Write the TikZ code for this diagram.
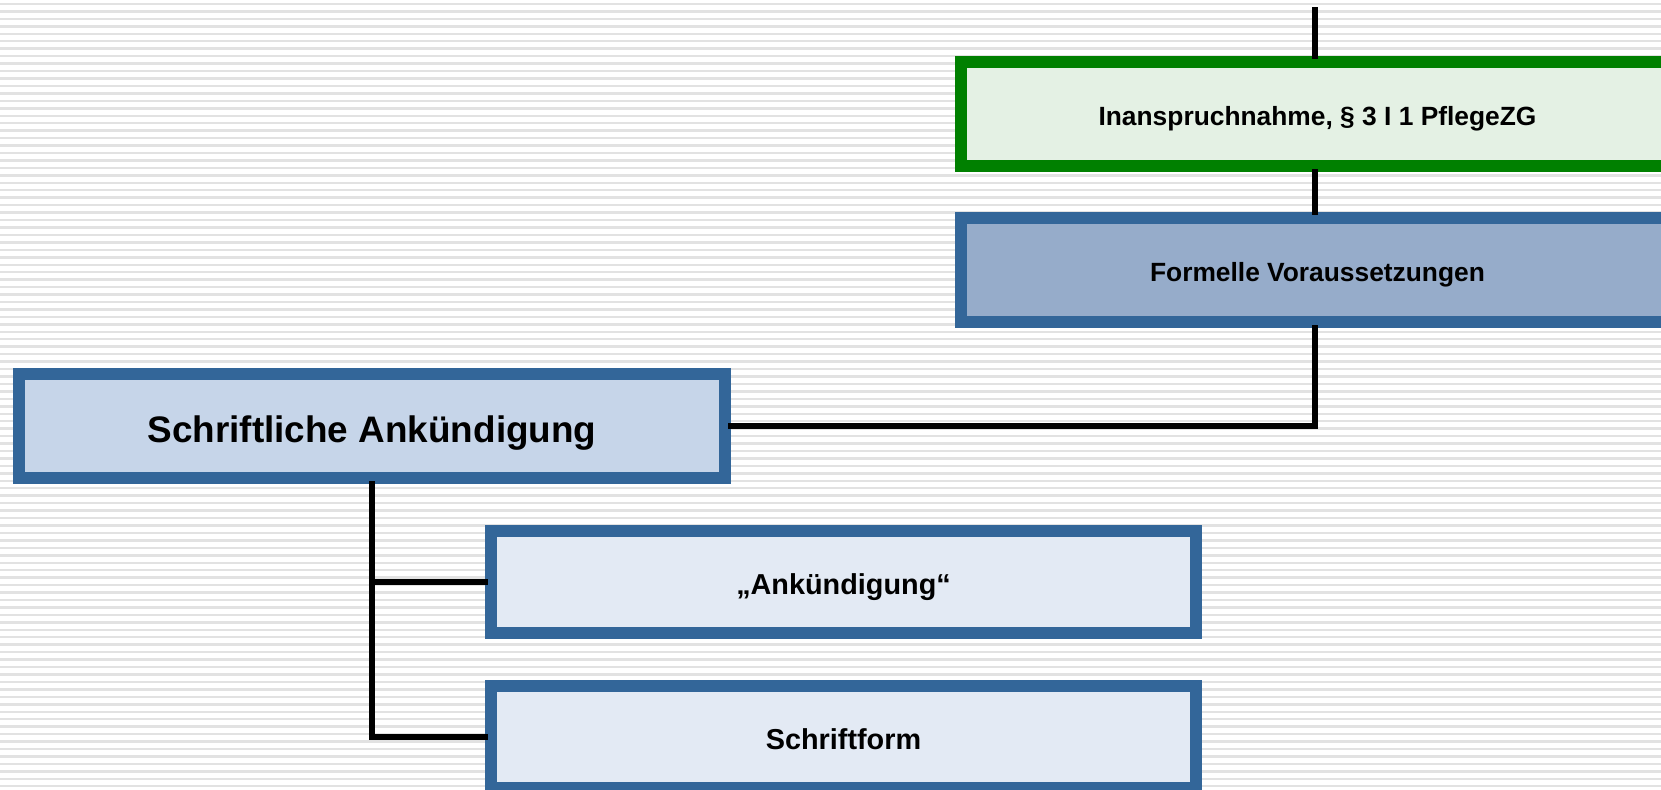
\documentclass[tikz,border=0pt]{standalone}
\usepackage{fontspec}
\setmainfont{Liberation Sans}
\usepackage{tikz}
\usetikzlibrary{calc}
\definecolor{Stripe}{RGB}{226,226,226}
\definecolor{Claim_Green}{RGB}{0,128,0}
\definecolor{Claim_Blue}{RGB}{51,102,153}
\definecolor{Fill_Green}{RGB}{228,241,228}
\definecolor{Fill_Dark}{RGB}{150,172,202}
\definecolor{Fill_Mid}{RGB}{198,213,233}
\definecolor{Fill_Light}{RGB}{227,234,244}

\begin{document}
\begin{tikzpicture}[x=0.02cm, y=-0.02cm,
    box/.style={draw=Claim_Blue, line width=6.8pt, inner sep=0pt, align=center,
        text height=13.5pt, text depth=0pt,
        font=\bfseries\fontsize{15}{18}\selectfont},
    wide/.style={box, minimum width=14.26cm, minimum height=2.08cm},
    sub/.style={box, fill=Fill_Light, minimum width=14.1cm, minimum height=2.04cm,
        text height=14.6pt, font=\bfseries\fontsize{16.4}{19}\selectfont},
    link/.style={line width=3.4pt, line cap=rect}]
    %% Background
    \useasboundingbox (0,0) rectangle (1661,789);
    \clip (0,0) rectangle (1661,789);
    \fill[white] (0,0) rectangle (1661,789);
    \foreach \y in {0,...,106}
    {
        \draw[Stripe, line width=1.4pt] (0,4+7.45*\y) to (1661,4+7.45*\y);
    }

    %% Boxes
    \node[wide, draw=Claim_Green, fill=Fill_Green] (claim) at (1317.5,114)
        {Inanspruchnahme, § 3 I 1 PflegeZG};
    \node[wide, fill=Fill_Dark] (formal) at (1317.5,270)
        {Formelle Voraussetzungen};
    \node[box, fill=Fill_Mid, minimum width=14.12cm, minimum height=2.08cm,
        text height=18.5pt, font=\bfseries\fontsize{21}{25}\selectfont] (written) at (372,426)
        {Schriftliche Ankündigung};
    \node[sub] (notice) at (843.5,582) {„Ankündigung“};
    \node[sub] (form) at (843.5,737) {Schriftform};

    %% Lines
    \coordinate (top) at (1315,10);
    \draw[link] (top) to (top |- claim.north);
    \draw[link] (top |- claim.south) to (top |- formal.north);
    \draw[link] (top |- formal.south) |- (written.east);
    \draw[link] (written.south) |- (form.west);
    \draw[link] (written.south |- notice.west) to (notice.west);
\end{tikzpicture}
\end{document}
